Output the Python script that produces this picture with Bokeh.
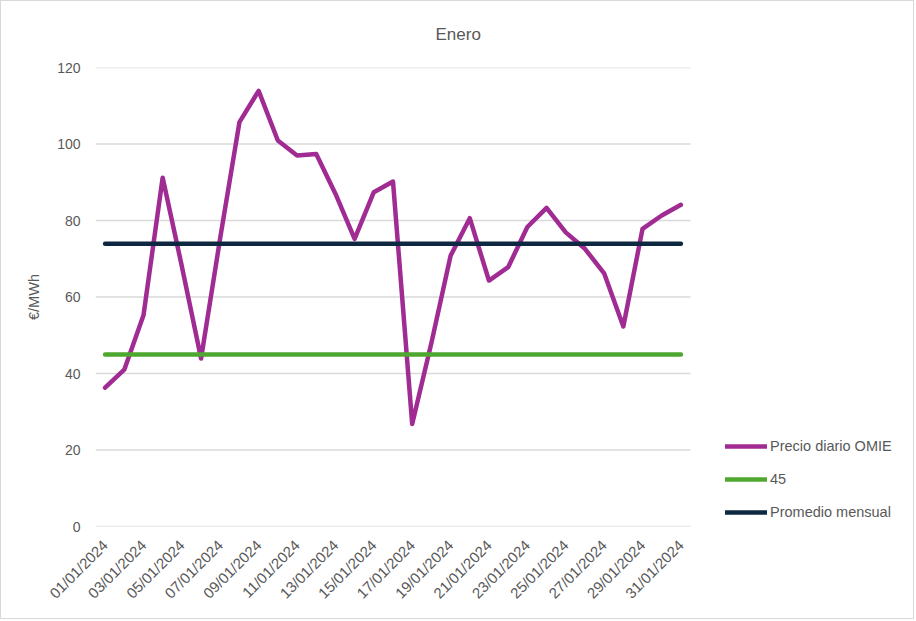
from math import pi
from bokeh.plotting import figure
from bokeh.models import Legend, LegendItem, FixedTicker, Range1d, ColumnDataSource
from bokeh.embed import file_html
from bokeh.resources import INLINE

# ---- data ----
dias = list(range(1, 32))
fechas = [f"{d:02d}/01/2024" for d in dias]
precio_omie = [36.3, 41.0, 55.2, 91.2, 68.0, 43.9, 75.5, 105.7, 113.9, 100.9,
               97.0, 97.4, 87.0, 75.2, 87.4, 90.2, 26.8, 48.0, 70.8, 80.6,
               64.3, 67.8, 78.3, 83.3, 76.9, 72.6, 66.2, 52.3, 77.8, 81.3, 84.1]
referencia_45 = [45] * 31
promedio_mensual = [73.9] * 31
y_ticks = [0, 20, 40, 60, 80, 100, 120]
x_ticks = dias[::2]

FONT = "Liberation Sans"
GREY = "#595959"

# plot area spans the chart; gridlines drawn across the 31 day slots only,
# the extra room on the right holds the legend (as in the reference)
x_lo = dias[0] - 0.5
x_hi = x_lo + len(dias) * (914 - 94) / 595.0

src = ColumnDataSource(dict(x=dias, omie=precio_omie, ref=referencia_45, prom=promedio_mensual))

p = figure(width=914, height=619, output_backend="svg", toolbar_location=None,
           x_range=Range1d(x_lo, x_hi), y_range=Range1d(0, 120),
           min_border_left=94, min_border_right=0, min_border_top=66, min_border_bottom=94,
           styles={"border": "1px solid #d9d9d9"})
p.outline_line_color = None
p.background_fill_color = "white"
p.border_fill_color = "white"

p.title.text = "Enero"
p.title.align = "left"
p.title.offset = 340
p.title.vertical_align = "top"
p.title.standoff = 44
p.title.text_font = FONT
p.title.text_font_size = "17px"
p.title.text_font_style = "normal"
p.title.text_color = GREY

p.xgrid.grid_line_color = None
p.ygrid.grid_line_color = None
grid_src = ColumnDataSource(dict(y=y_ticks,
                                 x0=[dias[0] - 0.5] * len(y_ticks),
                                 x1=[dias[-1] + 0.5] * len(y_ticks)))
p.segment(x0="x0", x1="x1", y0="y", y1="y", source=grid_src,
          line_color="#D9D9D9", line_width=1.3)

r1 = p.line("x", "omie", source=src, line_color="#A02B93", line_width=4.5,
            line_cap="round", line_join="round")
r2 = p.line("x", "ref", source=src, line_color="#4EA72E", line_width=4.5, line_cap="round")
r3 = p.line("x", "prom", source=src, line_color="#0E2841", line_width=4.5, line_cap="round")

p.yaxis.ticker = FixedTicker(ticks=y_ticks)
p.xaxis.ticker = FixedTicker(ticks=x_ticks)
p.xaxis.major_label_overrides = {d: fechas[d - 1] for d in x_ticks}
p.xaxis.major_label_orientation = pi / 4

for ax in (p.xaxis[0], p.yaxis[0]):
    ax.axis_line_color = None
    ax.major_tick_line_color = None
    ax.minor_tick_line_color = None
    ax.major_tick_out = 0
    ax.major_tick_in = 0
    ax.minor_tick_out = 0
    ax.major_label_text_font = FONT
    ax.major_label_text_color = GREY

p.yaxis.major_label_text_font_size = "14px"
p.yaxis.major_label_standoff = 15
p.yaxis.axis_label = "€/MWh"
p.yaxis.axis_label_text_font = FONT
p.yaxis.axis_label_text_font_size = "14.5px"
p.yaxis.axis_label_text_font_style = "normal"
p.yaxis.axis_label_text_color = GREY
p.yaxis.axis_label_standoff = 12

p.xaxis.major_label_text_font_size = "15px"
p.xaxis.major_label_standoff = 16

legend = Legend(items=[LegendItem(label="Precio diario OMIE", renderers=[r1]),
                       LegendItem(label="45", renderers=[r2]),
                       LegendItem(label="Promedio mensual", renderers=[r3])],
                location=(630, 4), margin=0, padding=0, spacing=13,
                glyph_width=42, glyph_height=20, label_height=20, label_standoff=3,
                label_text_font=FONT, label_text_font_size="14.5px", label_text_color=GREY,
                background_fill_alpha=0, border_line_color=None)
p.add_layout(legend, "center")

open("out.html", "w").write(file_html(p, INLINE))
